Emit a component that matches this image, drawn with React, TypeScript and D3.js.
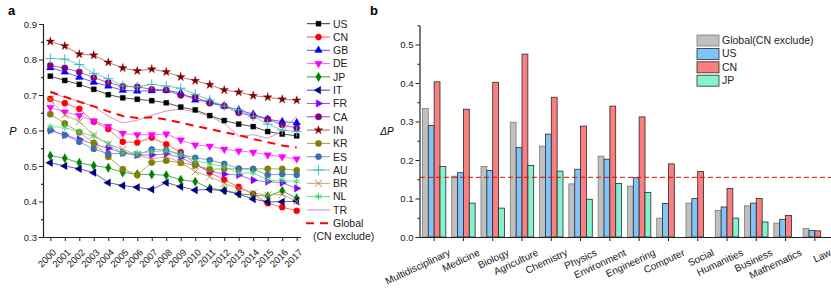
import React, { useEffect, useRef } from 'react';
import * as d3 from 'd3';

// panel a : P by year
const years = ['2000', '2001', '2002', '2003', '2004', '2005', '2006', '2007', '2008', '2009', '2010', '2011', '2012', '2013', '2014', '2015', '2016', '2017'];

const US = [0.753, 0.741, 0.730, 0.716, 0.701, 0.692, 0.688, 0.684, 0.678, 0.666, 0.658, 0.642, 0.628, 0.618, 0.611, 0.597, 0.590, 0.585];
const CN = [0.689, 0.677, 0.661, 0.625, 0.604, 0.568, 0.566, 0.580, 0.561, 0.539, 0.506, 0.482, 0.461, 0.441, 0.421, 0.395, 0.384, 0.374];
const GB = [0.777, 0.765, 0.750, 0.736, 0.725, 0.713, 0.711, 0.712, 0.713, 0.706, 0.686, 0.681, 0.669, 0.658, 0.646, 0.632, 0.625, 0.622];
const DE = [0.665, 0.652, 0.642, 0.627, 0.611, 0.592, 0.588, 0.588, 0.590, 0.573, 0.559, 0.556, 0.547, 0.542, 0.539, 0.531, 0.526, 0.520];
const JP = [0.529, 0.522, 0.509, 0.501, 0.495, 0.482, 0.477, 0.476, 0.474, 0.461, 0.456, 0.437, 0.432, 0.422, 0.418, 0.415, 0.430, 0.409];
const IT = [0.509, 0.500, 0.492, 0.481, 0.453, 0.445, 0.440, 0.434, 0.453, 0.442, 0.432, 0.434, 0.430, 0.421, 0.407, 0.399, 0.399, 0.401];
const FR = [0.600, 0.587, 0.575, 0.562, 0.550, 0.537, 0.531, 0.531, 0.534, 0.524, 0.503, 0.486, 0.477, 0.475, 0.460, 0.456, 0.453, 0.437];
const CA = [0.783, 0.776, 0.765, 0.749, 0.735, 0.724, 0.723, 0.716, 0.714, 0.699, 0.694, 0.677, 0.669, 0.650, 0.641, 0.632, 0.616, 0.607];
const IN = [0.851, 0.838, 0.815, 0.812, 0.792, 0.776, 0.768, 0.773, 0.765, 0.751, 0.740, 0.729, 0.714, 0.708, 0.698, 0.694, 0.688, 0.685];
const KR = [0.646, 0.620, 0.595, 0.565, 0.526, 0.491, 0.475, 0.510, 0.515, 0.509, 0.502, 0.491, 0.492, 0.492, 0.492, 0.492, 0.492, 0.488];
const ES = [0.601, 0.587, 0.568, 0.548, 0.534, 0.536, 0.531, 0.547, 0.545, 0.533, 0.523, 0.517, 0.506, 0.493, 0.491, 0.475, 0.477, 0.475];
const AU = [0.803, 0.801, 0.786, 0.761, 0.746, 0.726, 0.723, 0.730, 0.725, 0.719, 0.702, 0.686, 0.669, 0.658, 0.640, 0.618, 0.601, 0.597];
const BR = [0.686, 0.644, 0.625, 0.587, 0.562, 0.547, 0.532, 0.520, 0.526, 0.510, 0.484, 0.470, 0.451, 0.437, 0.424, 0.418, 0.420, 0.400];
const NL = [0.611, 0.609, 0.595, 0.584, 0.562, 0.536, 0.537, 0.540, 0.543, 0.531, 0.515, 0.506, 0.498, 0.480, 0.481, 0.460, 0.460, 0.456];
const TR = [0.706, 0.694, 0.681, 0.668, 0.640, 0.621, 0.629, 0.643, 0.655, 0.660, 0.653, 0.640, 0.620, 0.584, 0.588, 0.578, 0.597, 0.641];
const GLOBAL = [0.709, 0.695, 0.681, 0.668, 0.654, 0.641, 0.635, 0.637, 0.631, 0.622, 0.613, 0.604, 0.595, 0.587, 0.576, 0.567, 0.558, 0.552];

// panel b : delta P by field
const fields = ['Multidisciplinary', 'Medicine', 'Biology', 'Agriculture', 'Chemistry', 'Physics', 'Environment', 'Engineering', 'Computer', 'Social', 'Humanities', 'Business', 'Mathematics', 'Law'];
const dpGlobal = [0.334, 0.158, 0.183, 0.298, 0.236, 0.138, 0.210, 0.132, 0.049, 0.088, 0.069, 0.081, 0.036, 0.022];
const dpUS = [0.290, 0.167, 0.173, 0.232, 0.267, 0.176, 0.202, 0.154, 0.087, 0.100, 0.078, 0.088, 0.046, 0.017];
const dpCN = [0.403, 0.332, 0.402, 0.475, 0.363, 0.288, 0.340, 0.312, 0.190, 0.170, 0.126, 0.100, 0.056, 0.016];
const dpJP = [0.183, 0.088, 0.075, 0.186, 0.171, 0.098, 0.139, 0.116, null, null, 0.049, 0.039, null, null];
const dpMean = 0.155;

const FONT = 'Liberation Sans, Arial, sans-serif';

const series = [
  { name: 'US', data: US, color: '#000000', line: '#333333', sym: d3.symbolSquare, rot: 0, size: 26 },
  { name: 'CN', data: CN, color: '#ff0000', line: '#ff5050', sym: d3.symbolCircle, rot: 0, size: 30 },
  { name: 'GB', data: GB, color: '#0000ff', line: '#4a4aff', sym: d3.symbolTriangle, rot: 0, size: 26 },
  { name: 'DE', data: DE, color: '#ff00ff', line: '#ff55ff', sym: d3.symbolTriangle, rot: 180, size: 26 },
  { name: 'JP', data: JP, color: '#008000', line: '#3a9a3a', sym: d3.symbolDiamond, rot: 0, size: 26 },
  { name: 'IT', data: IT, color: '#000080', line: '#4444a0', sym: d3.symbolTriangle, rot: -90, size: 26 },
  { name: 'FR', data: FR, color: '#8000ff', line: '#a050ff', sym: d3.symbolTriangle, rot: 90, size: 26 },
  { name: 'CA', data: CA, color: '#800080', line: '#a040a0', sym: d3.symbolCircle, rot: 0, size: 32 },
  { name: 'IN', data: IN, color: '#800000', line: '#b06060', sym: d3.symbolStar, rot: 0, size: 24 },
  { name: 'KR', data: KR, color: '#808000', line: '#a0a040', sym: d3.symbolCircle, rot: 0, size: 32 },
  { name: 'ES', data: ES, color: '#3d6fae', line: '#6a96c8', sym: d3.symbolCircle, rot: 0, size: 30 },
  { name: 'AU', data: AU, color: '#40b8b8', line: '#60c4c4', sym: d3.symbolPlus, rot: 0, size: 34, stroke: true },
  { name: 'BR', data: BR, color: '#c08850', line: '#c4a070', sym: d3.symbolTimes, rot: 0, size: 34, stroke: true },
  { name: 'NL', data: NL, color: '#40d070', line: '#60dd90', sym: d3.symbolAsterisk, rot: 0, size: 34, stroke: true },
  { name: 'TR', data: TR, color: '#d070c0', line: '#d080c8', sym: null, rot: 0, size: 0 },
];

export default function App() {
  const svgRef = useRef<SVGSVGElement>(null);
  const width = 831;
  const height = 298;

  useEffect(() => {
    const svg = d3.select(svgRef.current);
    svg.selectAll('*').remove();
    svg.attr('width', width).attr('height', height);

    // ---------- panel a ----------
    const xA = d3.scalePoint().domain(years).range([50.3, 296.7]);
    const yA = d3.scaleLinear().domain([0.3, 0.9]).range([237, 24]);
    const gA = svg.append('g');

    // lines
    const lineA = d3
      .line<number>()
      .x((_, i) => xA(years[i]) as number)
      .y((d) => yA(d));

    series.forEach((s) => {
      gA.append('path')
        .attr('d', lineA(s.data))
        .attr('fill', 'none')
        .attr('stroke', s.line)
        .attr('stroke-width', 1)
        .attr('stroke-opacity', 0.85);
    });

    gA.append('path')
      .attr('d', lineA(GLOBAL))
      .attr('fill', 'none')
      .attr('stroke', '#ff0000')
      .attr('stroke-width', 2)
      .attr('stroke-dasharray', '8,6');

    // markers
    series.forEach((s) => {
      if (!s.sym) return;
      const sym = d3.symbol().type(s.sym).size(s.size);
      gA.append('g')
        .selectAll('path')
        .data(s.data)
        .enter()
        .append('path')
        .attr('d', sym() as string)
        .attr('transform', (d, i) => `translate(${xA(years[i])},${yA(d)}) rotate(${s.rot})`)
        .attr('fill', s.stroke ? 'none' : s.color)
        .attr('stroke', s.color)
        .attr('stroke-width', s.stroke ? 1 : 0.6)
        .attr('stroke-opacity', s.stroke ? 1 : 0.5);
    });

    // axes a
    const yAxisA = gA.append('g')
      .attr('transform', 'translate(43,0)')
      .call(
        d3.axisLeft(yA)
          .tickValues([0.3, 0.4, 0.5, 0.6, 0.7, 0.8, 0.9])
          .tickSize(4)
          .tickPadding(2)
          .tickFormat(d3.format('.1f'))
      );
    gA.append('g')
      .attr('transform', 'translate(43,0)')
      .call(d3.axisLeft(yA).tickValues([0.35, 0.45, 0.55, 0.65, 0.75, 0.85]).tickSize(2).tickFormat(() => ''))
      .select('.domain').remove();

    const xAxisA = gA.append('g')
      .attr('transform', 'translate(0,237)')
      .call(d3.axisBottom(xA).tickSize(4).tickSizeOuter(0));
    xAxisA.select('.domain').attr('d', 'M43,0.5H301');
    xAxisA.selectAll('text')
      .attr('text-anchor', 'end')
      .attr('dy', null)
      .attr('y', 0)
      .attr('transform', 'translate(6,16) rotate(-45)');

    [yAxisA, xAxisA].forEach((ax) => {
      ax.attr('font-family', FONT).attr('font-size', 9.5);
      ax.selectAll('text').attr('fill', '#222');
      ax.selectAll('line').attr('stroke', '#222');
      ax.select('.domain').attr('stroke', '#222').attr('stroke-width', 1.2);
    });

    gA.append('text')
      .attr('x', 13).attr('y', 135)
      .attr('font-family', FONT).attr('font-size', 11).attr('font-style', 'italic')
      .attr('text-anchor', 'middle')
      .text('P');

    // legend a
    const legA = gA.append('g').attr('font-family', FONT).attr('font-size', 10.5).attr('fill', '#222');
    series.forEach((s, i) => {
      const yy = 23.7 + i * 13.3;
      legA.append('line')
        .attr('x1', 307).attr('x2', 330).attr('y1', yy).attr('y2', yy)
        .attr('stroke', s.line).attr('stroke-width', 1);
      if (s.sym) {
        legA.append('path')
          .attr('d', d3.symbol().type(s.sym).size(s.size)() as string)
          .attr('transform', `translate(318.5,${yy}) rotate(${s.rot})`)
          .attr('fill', s.stroke ? 'none' : s.color)
          .attr('stroke', s.color)
          .attr('stroke-width', s.stroke ? 1 : 0.6)
          .attr('stroke-opacity', s.stroke ? 1 : 0.5);
      }
      legA.append('text').attr('x', 333).attr('y', yy + 3.8).text(s.name);
    });
    const gy = 23.7 + 15 * 13.3;
    legA.append('line')
      .attr('x1', 306).attr('x2', 331).attr('y1', gy).attr('y2', gy)
      .attr('stroke', '#ff0000').attr('stroke-width', 2).attr('stroke-dasharray', '8,6');
    legA.append('text').attr('x', 333).attr('y', gy + 3.8).text('Global');
    legA.append('text').attr('x', 313).attr('y', gy + 16.5).text('(CN exclude)');

    svg.append('text')
      .attr('x', 8).attr('y', 15)
      .attr('font-family', FONT).attr('font-size', 13).attr('font-weight', 'bold')
      .text('a');

    // ---------- panel b ----------
    const gB = svg.append('g');
    const xB = d3.scaleBand().domain(fields).range([419.5, 829.5]).paddingInner(0.2).paddingOuter(0.1);
    const yB = d3.scaleLinear().domain([0, 0.55]).range([237, 25.25]);
    const groups = ['Global(CN exclude)', 'US', 'CN', 'JP'];
    const xG = d3.scaleBand().domain(groups).range([0, xB.bandwidth()]);
    const fills = ['#c0c0c0', '#80c4fa', '#fb7f7f', '#86f1d0'];
    const strokes = ['#7a7a7a', '#2a2a2a', '#2a2a2a', '#2a2a2a'];
    const barData = [dpGlobal, dpUS, dpCN, dpJP];

    // bars, one group per series
    barData.forEach((vals, k) => {
      const rows = fields
        .map((f, i) => ({ f, v: vals[i] }))
        .filter((r) => r.v !== null) as { f: string; v: number }[];
      gB.append('g')
        .selectAll('rect')
        .data(rows)
        .enter()
        .append('rect')
        .attr('x', (r) => (xB(r.f) as number) + (xG(groups[k]) as number))
        .attr('y', (r) => yB(r.v))
        .attr('width', xG.bandwidth())
        .attr('height', (r) => 237 - yB(r.v))
        .attr('fill', fills[k])
        .attr('stroke', strokes[k])
        .attr('stroke-width', 0.8);
    });

    // dashed mean line
    gB.append('line')
      .attr('x1', 420).attr('x2', 831)
      .attr('y1', yB(dpMean)).attr('y2', yB(dpMean))
      .attr('stroke', '#d81010').attr('stroke-width', 1)
      .attr('stroke-dasharray', '5,3');

    const yAxisB = gB.append('g')
      .attr('transform', 'translate(419.5,0)')
      .call(
        d3.axisLeft(yB)
          .tickValues([0, 0.1, 0.2, 0.3, 0.4, 0.5])
          .tickSize(4)
          .tickPadding(2)
          .tickSizeOuter(0)
          .tickFormat(d3.format('.1f'))
      );
    gB.append('g')
      .attr('transform', 'translate(419.5,0)')
      .call(d3.axisLeft(yB).tickValues([0.05, 0.15, 0.25, 0.35, 0.45, 0.55]).tickSize(2).tickFormat(() => ''))
      .select('.domain').remove();

    const xAxisB = gB.append('g')
      .attr('transform', 'translate(0,237)')
      .call(d3.axisBottom(xB).tickSize(4).tickSizeOuter(0));
    xAxisB.select('.domain').attr('d', 'M419.5,0.5H831');
    xAxisB.selectAll('text')
      .attr('text-anchor', 'end')
      .attr('dy', null)
      .attr('y', 0)
      .attr('transform', 'translate(17,18) rotate(-25)');

    [yAxisB, xAxisB].forEach((ax) => {
      ax.attr('font-family', FONT).attr('font-size', 10);
      ax.selectAll('text').attr('fill', '#222');
      ax.selectAll('line').attr('stroke', '#222');
      ax.select('.domain').attr('stroke', '#222').attr('stroke-width', 1.2);
    });
    yAxisB.attr('font-size', 9.5);

    gB.append('text')
      .attr('x', 387).attr('y', 135)
      .attr('font-family', FONT).attr('font-size', 10).attr('font-style', 'italic')
      .attr('text-anchor', 'middle')
      .text('ΔP');

    // legend b
    const legB = gB.append('g').attr('font-family', FONT).attr('font-size', 10.5).attr('fill', '#222');
    groups.forEach((g, k) => {
      const yy = 35 + k * 13.4;
      legB.append('rect')
        .attr('x', 697).attr('y', yy).attr('width', 22).attr('height', 11)
        .attr('fill', fills[k]).attr('stroke', strokes[k]).attr('stroke-width', 0.8);
      legB.append('text').attr('x', 722).attr('y', yy + 9).text(g);
    });

    svg.append('text')
      .attr('x', 370).attr('y', 15)
      .attr('font-family', FONT).attr('font-size', 13).attr('font-weight', 'bold')
      .text('b');
  }, []);

  return (
    <svg
      ref={svgRef}
      style={{ position: 'absolute', left: 0, top: 0, background: '#fff' }}
    ></svg>
  );
}
